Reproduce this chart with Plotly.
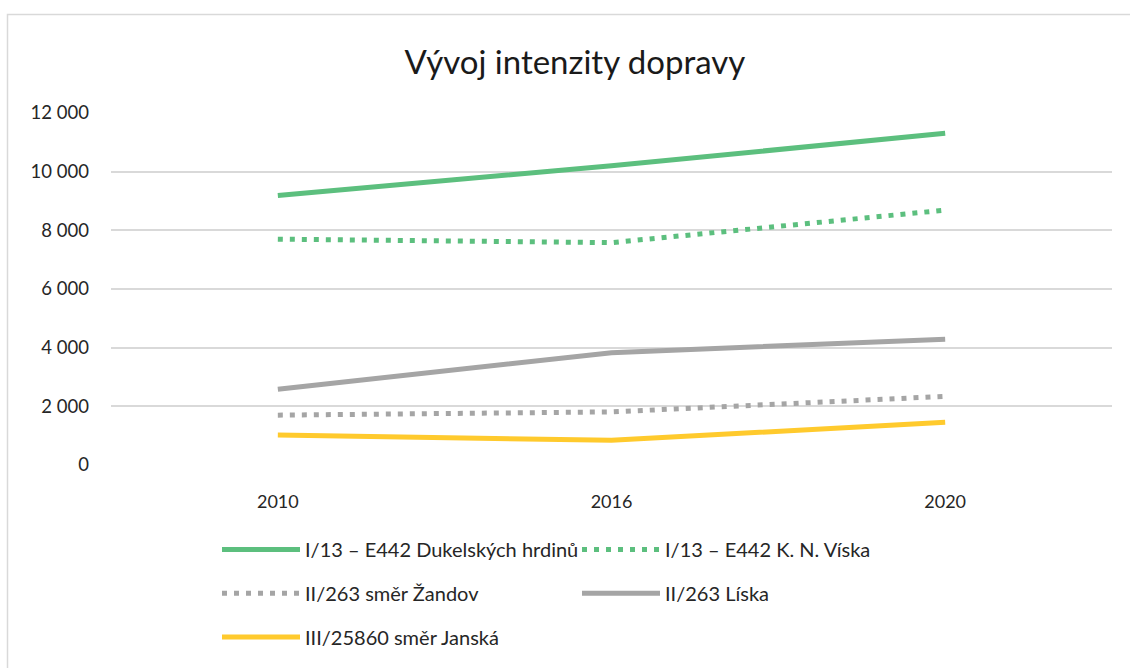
import plotly.graph_objects as go

years = ["2010", "2016", "2020"]
names = [
    "I/13 – E442 Dukelských hrdinů",
    "I/13 – E442 K. N. Víska",
    "II/263 směr Žandov",
    "II/263 Líska",
    "III/25860 směr Janská",
]
dukelskych = [9190, 10200, 11310]
kn_viska = [7700, 7580, 8690]
zandov = [1700, 1810, 2340]
liska = [2580, 3830, 4290]
janska = [1020, 840, 1460]

series = [dukelskych, kn_viska, zandov, liska, janska]
colors = ["#5CBF7E", "#5CBF7E", "#A5A5A5", "#A5A5A5", "#FFCA2D"]
dashes = ["solid", "5px,7px", "5px,7px", "solid", "solid"]
legends = ["legend", "legend", "legend2", "legend2", "legend3"]

FONT = "Lato"

fig = go.Figure()
for nm, vals, c, d, lg in zip(names, series, colors, dashes, legends):
    fig.add_trace(go.Scatter(
        x=years, y=vals, name=nm, mode="lines",
        line=dict(color=c, width=5, dash=d),
        legend=lg,
    ))

W, H = 1130, 668
ml, mr, mt, mb = 111, 18, 113, 201
pw, ph = W - ml - mr, H - mt - mb

def px2x(px):
    return (px - ml) / pw

def py2y(py):
    return (H - mb - py) / ph

leg_common = dict(
    orientation="h", xanchor="left", yanchor="middle",
    font=dict(family=FONT, size=20, color="#262626"),
    bgcolor="rgba(0,0,0,0)", entrywidth=267, entrywidthmode="pixels",
    itemwidth=78,
)

fig.update_layout(
    width=W, height=H,
    margin=dict(l=ml, r=mr, t=mt, b=mb),
    paper_bgcolor="white", plot_bgcolor="white",
    separators=", ",
    title=dict(text="Vývoj intenzity dopravy", x=575 / W, xanchor="center",
               y=1 - 62 / H, yanchor="middle",
               font=dict(family=FONT, size=33, color="#1a1a1a")),
    xaxis=dict(type="category", range=[-0.5, 2.5], showgrid=False,
               showline=False, ticks="", zeroline=False,
               tickfont=dict(family=FONT, size=18, color="#262626"),
               ticklabelstandoff=24),
    yaxis=dict(range=[0, 12000], dtick=2000, tickformat=",d",
               showgrid=True, gridcolor="#D9D9D9", gridwidth=1.5,
               zeroline=False, showline=False, ticks="",
               tickfont=dict(family=FONT, size=18.5, color="#262626"),
               ticklabelstandoff=21),
    legend=dict(x=px2x(217), y=py2y(552), **leg_common),
    legend2=dict(x=px2x(217), y=py2y(596), **leg_common),
    legend3=dict(x=px2x(217), y=py2y(640), **leg_common),
    showlegend=True,
)

fig.add_shape(type="rect", xref="paper", yref="paper",
              x0=px2x(7.5), x1=px2x(1145), y0=py2y(700), y1=py2y(14),
              line=dict(color="#D9D9D9", width=1.5), fillcolor="rgba(0,0,0,0)",
              layer="below")

fig.write_html("out.html", config={"displayModeBar": False},
               post_script="document.body.style.margin='0px';")
